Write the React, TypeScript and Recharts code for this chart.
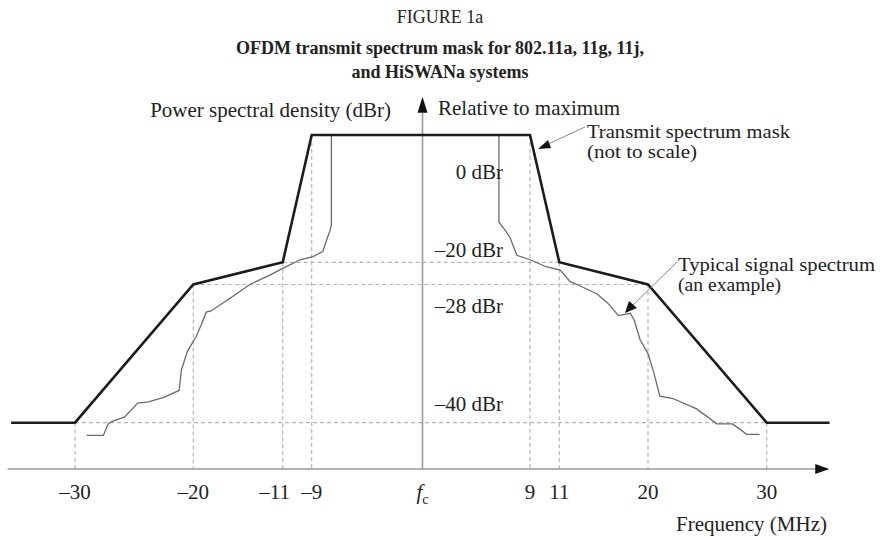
import React from "react";
import { LineChart, Line, XAxis, YAxis, ReferenceLine, ReferenceDot } from "recharts";

// transmit spectrum mask (MHz offset from fc, dBr)
const maskFreq = [-35.4, -30, -20, -11, -9, 9, 11, 20, 30, 35.3];
const maskLevel = [-40, -40, -28, -20, 0, 0, -20, -28, -40, -40];

// typical signal spectrum
const signalFreq = [
  -29.0, -27.6, -27.2, -26.9, -25.8, -24.7, -23.8, -22.5, -21.2, -21.0, -20.5, -19.7, -19.2,
  -18.7, -18.2, -16.3, -14.3, -12.3, -11.0, -9.8, -8.9, -8.1, -7.5, -7.4, -7.4,
  6.4, 6.4, 6.9, 7.3, 7.9, 9.0, 10.1, 11.1, 12.1, 12.8, 14.8, 15.9, 17.0, 18.2, 18.6, 19.2,
  20.0, 20.5, 21.0, 22.1, 24.1, 25.8, 27.1, 27.8, 28.3, 29.4,
];
const signalLevel = [
  -41.1, -41.1, -40.1, -39.9, -39.5, -38.3, -38.2, -37.8, -37.2, -35.4, -33.8, -32.5, -31.5,
  -30.4, -30.3, -29.2, -28.0, -24.6, -22.2, -19.6, -19.1, -18.3, -14.9, -14.1, 0,
  0, -13.7, -14.9, -16.0, -18.9, -19.6, -21.6, -22.8, -27.0, -28.0, -28.8, -29.6, -30.7, -30.5,
  -31.1, -32.8, -34.0, -35.7, -37.7, -37.9, -38.8, -40.1, -40.1, -40.6, -41.0, -41.0,
];

const xTicks = [-30, -20, -11, -9, 0, 9, 11, 20, 30];
const xTickLabels = ["–30", "–20", "–11", "–9", "fc", "9", "11", "20", "30"];

const levelLabels = ["0 dBr", "–20 dBr", "–28 dBr", "–40 dBr"];

// the figure is "not to scale": piecewise axis calibration (value -> page px)
const xKnotVals = [-36.34, -30, -20, -11, -9, 0, 9, 11, 20, 30, 39.55];
const xKnotPx = [0, 75, 193.3, 282.7, 311.7, 422.5, 530, 559.3, 648, 766.7, 880];
const yKnotVals = [-44, -40, -28, -20, 0, 21.2];
const yKnotPx = [469, 422.7, 284.5, 262.3, 135, 0];

function makeScale(vals: number[], pxs: number[]): any {
  let dom = [vals[0], vals[vals.length - 1]];
  let rng = [pxs[0], pxs[pxs.length - 1]];
  const ref0 = pxs[0];
  const ref1 = pxs[pxs.length - 1];
  const s: any = (v: number) => {
    let i = 0;
    while (i < vals.length - 2 && v > vals[i + 1]) i++;
    const t = (v - vals[i]) / (vals[i + 1] - vals[i]);
    const p = pxs[i] + t * (pxs[i + 1] - pxs[i]);
    return rng[0] + ((p - ref0) / (ref1 - ref0)) * (rng[1] - rng[0]);
  };
  s.domain = (d?: number[]) => {
    if (d) { dom = d; return s; }
    return dom;
  };
  s.range = (r?: number[]) => {
    if (r) { rng = r; return s; }
    return rng;
  };
  s.copy = () => makeScale(vals, pxs).domain(dom).range(rng);
  s.ticks = () => vals.slice(1, -1);
  return s;
}

const xScale = makeScale(xKnotVals, xKnotPx);
const yScale = makeScale(yKnotVals, yKnotPx);

const maskData = maskFreq.map((f, i) => ({ f, v: maskLevel[i] }));
const signalData = signalFreq.map((f, i) => ({ f, v: signalLevel[i] }));

const FONT = "'Liberation Serif', 'Times New Roman', serif";
const GRID = "#b5b5b5";
const AXIS = "#9a9a9a";

const FreqTick = (props: any) => {
  const { x, y, payload } = props;
  const idx = xTicks.indexOf(payload.value);
  const label = xTickLabels[idx];
  const shift = payload.value === -11 ? -8 : 0;
  if (label === "fc") {
    return (
      <text x={x} y={y + 22} textAnchor="middle" fontFamily={FONT} fontSize={21} fill="#222">
        <tspan fontStyle="italic">f</tspan>
        <tspan fontSize={14} dy={5}>c</tspan>
      </text>
    );
  }
  return (
    <text x={x + shift} y={y + 22} textAnchor="middle" fontFamily={FONT} fontSize={21} fill="#222">
      {label}
    </text>
  );
};

const UpArrow = (props: any) => {
  const { cx, cy } = props;
  return <polygon points={`${cx - 5},${cy} ${cx + 5},${cy} ${cx},${cy - 16}`} fill="#111" />;
};

const RightArrow = (props: any) => {
  const { cx, cy } = props;
  return <polygon points={`${cx - 6},${cy - 5} ${cx - 6},${cy + 5} ${cx + 8},${cy}`} fill="#111" />;
};

const dashed = { stroke: GRID, strokeDasharray: "4 3", strokeWidth: 1.2 };

export default function App() {
  return (
    <div style={{ position: "absolute", left: 0, top: 0, width: 880, height: 540, background: "#fff" }}>
      <LineChart width={880} height={540} margin={{ top: 0, right: 0, bottom: 0, left: 0 }}>
        <XAxis
          type="number"
          dataKey="f"
          domain={[-36.34, 39.55]}
          scale={xScale}
          allowDataOverflow
          ticks={xTicks}
          interval={0}
          height={71}
          axisLine={false}
          tickLine={false}
          tick={<FreqTick />}
        />
        <YAxis hide type="number" dataKey="v" domain={[-44, 21.2]} scale={yScale} allowDataOverflow />

        {/* dashed guides */}
        <ReferenceLine segment={[{ x: -30, y: -40 }, { x: 30, y: -40 }]} {...dashed} />
        <ReferenceLine segment={[{ x: -20, y: -28 }, { x: 20, y: -28 }]} {...dashed} />
        <ReferenceLine segment={[{ x: -11, y: -20 }, { x: 11, y: -20 }]} {...dashed} />
        <ReferenceLine segment={[{ x: -30, y: -40 }, { x: -30, y: -44 }]} {...dashed} />
        <ReferenceLine segment={[{ x: 30, y: -40 }, { x: 30, y: -44 }]} {...dashed} />
        <ReferenceLine segment={[{ x: -20, y: -28 }, { x: -20, y: -44 }]} {...dashed} />
        <ReferenceLine segment={[{ x: 20, y: -28 }, { x: 20, y: -44 }]} {...dashed} />
        <ReferenceLine segment={[{ x: -11, y: -20 }, { x: -11, y: -44 }]} {...dashed} />
        <ReferenceLine segment={[{ x: 11, y: -20 }, { x: 11, y: -44 }]} {...dashed} />
        <ReferenceLine segment={[{ x: -9, y: 0 }, { x: -9, y: -44 }]} {...dashed} />
        <ReferenceLine segment={[{ x: 9, y: 0 }, { x: 9, y: -44 }]} {...dashed} />

        {/* axes with arrows */}
        <ReferenceLine segment={[{ x: -35.7, y: -44 }, { x: 35.0, y: -44 }]} stroke={AXIS} strokeWidth={1.6} />
        <ReferenceLine segment={[{ x: 0, y: -44 }, { x: 0, y: 3.5 }]} stroke={AXIS} strokeWidth={1.6} />
        <ReferenceDot x={0} y={3.5} r={0} shape={<UpArrow />} />
        <ReferenceDot x={34.6} y={-44} r={0} shape={<RightArrow />} />

        <Line
          data={signalData}
          dataKey="v"
          type="linear"
          stroke="#6a6a6a"
          strokeWidth={1.3}
          dot={false}
          activeDot={false}
          isAnimationActive={false}
        />
        <Line
          data={maskData}
          dataKey="v"
          type="linear"
          stroke="#1c1c1c"
          strokeWidth={2.6}
          strokeLinecap="butt"
          dot={false}
          activeDot={false}
          isAnimationActive={false}
        />
      </LineChart>

      <svg
        width={880}
        height={540}
        style={{ position: "absolute", left: 0, top: 0, pointerEvents: "none" }}
        fontFamily={FONT}
        fill="#222"
      >
        <text x={440} y={23} textAnchor="middle" fontSize={18}>FIGURE 1a</text>
        <text x={440} y={54} textAnchor="middle" fontSize={18} fontWeight="bold">
          OFDM transmit spectrum mask for 802.11a, 11g, 11j,
        </text>
        <text x={440} y={78} textAnchor="middle" fontSize={18} fontWeight="bold">
          and HiSWANa systems
        </text>

        <text x={391} y={117} textAnchor="end" fontSize={21}>Power spectral density (dBr)</text>
        <text x={438} y={115} fontSize={21}>Relative to maximum</text>

        <text x={503} y={179} textAnchor="end" fontSize={21}>{levelLabels[0]}</text>
        <text x={503} y={257} textAnchor="end" fontSize={21}>{levelLabels[1]}</text>
        <text x={503} y={313} textAnchor="end" fontSize={21}>{levelLabels[2]}</text>
        <text x={503} y={411} textAnchor="end" fontSize={21}>{levelLabels[3]}</text>

        <text x={587} y={138} fontSize={18} textLength={203} lengthAdjust="spacingAndGlyphs">
          Transmit spectrum mask
        </text>
        <text x={587} y={158} fontSize={18} textLength={110} lengthAdjust="spacingAndGlyphs">
          (not to scale)
        </text>
        <line x1={585} y1={127} x2={546} y2={145} stroke="#888" strokeWidth={1} />
        <polygon points="538,149 548,140 551,148" fill="#111" />

        <text x={678} y={271} fontSize={18} textLength={197} lengthAdjust="spacingAndGlyphs">
          Typical signal spectrum
        </text>
        <text x={678} y={291} fontSize={18} textLength={103} lengthAdjust="spacingAndGlyphs">
          (an example)
        </text>
        <line x1={677} y1={262} x2={632} y2={306} stroke="#888" strokeWidth={1} />
        <polygon points="625,313 629,301 637,308" fill="#111" />

        <text x={827} y={531} textAnchor="end" fontSize={21}>Frequency (MHz)</text>
      </svg>
    </div>
  );
}
